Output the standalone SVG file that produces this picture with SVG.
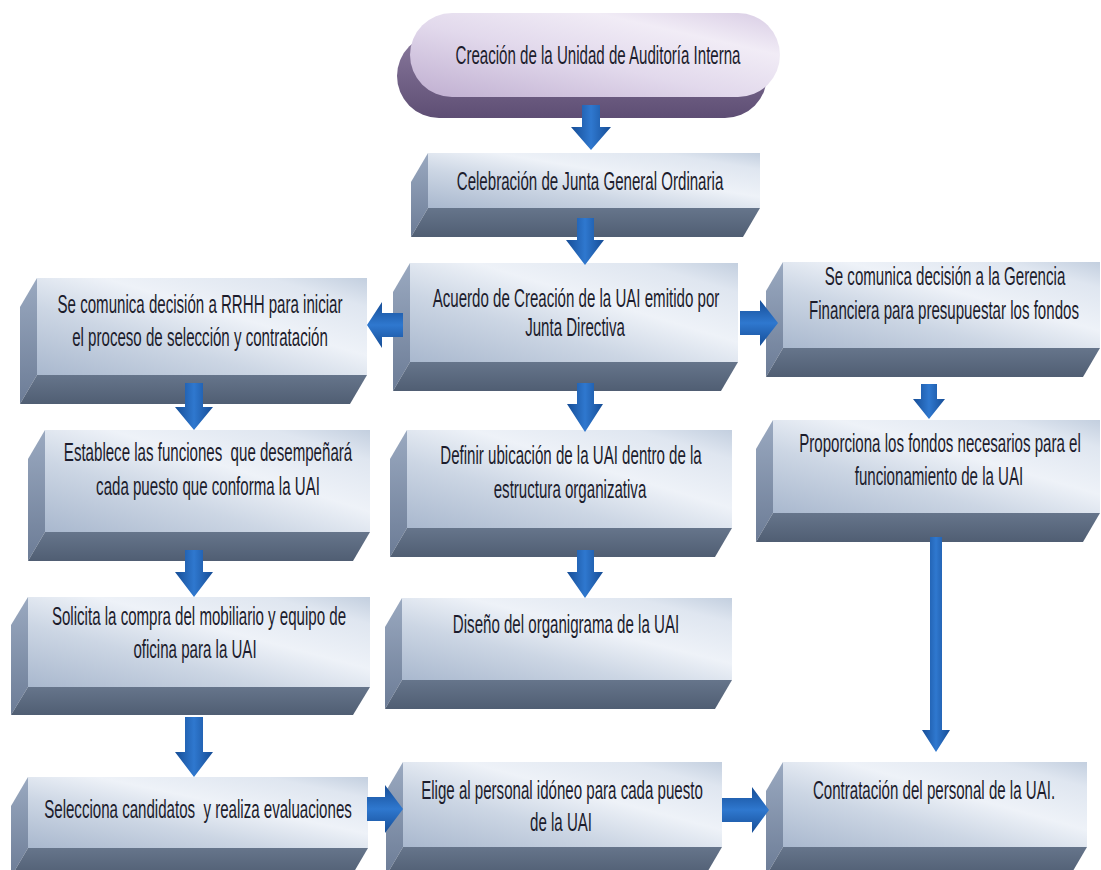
<svg xmlns="http://www.w3.org/2000/svg" width="1101" height="870" viewBox="0 0 1101 870">
<defs>
<linearGradient id="gFront" x1="0" y1="1" x2="1" y2="0">
<stop offset="0" stop-color="#a9b8ce"/>
<stop offset="0.35" stop-color="#ccd6e4"/>
<stop offset="0.6" stop-color="#eef2f8"/>
<stop offset="0.85" stop-color="#dfe6f0"/>
<stop offset="1" stop-color="#c3cfdf"/>
</linearGradient>
<linearGradient id="gLeft" x1="0" y1="0" x2="0" y2="1">
<stop offset="0" stop-color="#9aa9c0"/>
<stop offset="1" stop-color="#6c7c96"/>
</linearGradient>
<linearGradient id="gBottom" x1="0" y1="0" x2="0" y2="1">
<stop offset="0" stop-color="#66758b"/>
<stop offset="1" stop-color="#505e73"/>
</linearGradient>
<linearGradient id="gTermFront" x1="0" y1="1" x2="1" y2="0">
<stop offset="0" stop-color="#bfaed0"/>
<stop offset="0.45" stop-color="#e2d9ec"/>
<stop offset="0.75" stop-color="#f1ecf6"/>
<stop offset="1" stop-color="#d8cce4"/>
</linearGradient>
<linearGradient id="gTermSide" x1="0" y1="0" x2="0" y2="1">
<stop offset="0" stop-color="#8a7a9e"/>
<stop offset="1" stop-color="#5e4e74"/>
</linearGradient>
<linearGradient id="gArrV" x1="0" y1="0" x2="1" y2="0">
<stop offset="0" stop-color="#164d96"/>
<stop offset="0.5" stop-color="#2f78cf"/>
<stop offset="1" stop-color="#164d96"/>
</linearGradient>
<linearGradient id="gArrH" x1="0" y1="0" x2="0" y2="1">
<stop offset="0" stop-color="#164d96"/>
<stop offset="0.5" stop-color="#2f78cf"/>
<stop offset="1" stop-color="#164d96"/>
</linearGradient>
</defs>
<style>
.front{fill:url(#gFront);}
.left{fill:url(#gLeft);}
.bottom{fill:url(#gBottom);}
.av{fill:url(#gArrV);}
.ah{fill:url(#gArrH);}
text{font-family:"Liberation Sans",Arial,sans-serif;font-size:26px;fill:#1c1c2c;text-anchor:middle;}
</style>
<rect width="1101" height="870" fill="#ffffff"/>

<g id="n0">
<rect x="397" y="34" width="370" height="84" rx="42" ry="42" fill="url(#gTermSide)"/>
<rect x="410" y="13" width="370" height="84" rx="42" ry="42" fill="url(#gTermFront)"/>
<text transform="translate(598,64) scale(0.58,1)">Creación de la Unidad de Auditoría Interna</text>
</g>

<g id="n1">
<path class="left" d="M428,153 L428,208 L411,237 L411,182 Z"/>
<path class="bottom" d="M428,208 L760,208 L743,237 L411,237 Z"/>
<rect class="front" x="428" y="153" width="332" height="55"/>
<text transform="translate(590,190) scale(0.58,1)">Celebración de Junta General Ordinaria</text>
</g>

<g id="n2">
<path class="left" d="M410,263 L410,362 L393,391 L393,292 Z"/>
<path class="bottom" d="M410,362 L738,362 L721,391 L393,391 Z"/>
<rect class="front" x="410" y="263" width="328" height="99"/>
<text transform="translate(576,307) scale(0.58,1)">Acuerdo de Creación de la UAI emitido por</text>
<text transform="translate(575,336) scale(0.58,1)">Junta Directiva</text>
</g>

<g id="n3">
<path class="left" d="M37,278 L37,375 L20,404 L20,307 Z"/>
<path class="bottom" d="M37,375 L367,375 L350,404 L20,404 Z"/>
<rect class="front" x="37" y="278" width="330" height="97"/>
<text transform="translate(200,313) scale(0.58,1)">Se comunica decisión a RRHH para iniciar</text>
<text transform="translate(200,346) scale(0.58,1)">el proceso de selección y contratación</text>
</g>

<g id="n4">
<path class="left" d="M783,262 L783,348 L766,377 L766,291 Z"/>
<path class="bottom" d="M783,348 L1100,348 L1083,377 L766,377 Z"/>
<rect class="front" x="783" y="262" width="317" height="86"/>
<text transform="translate(945,285) scale(0.58,1)">Se comunica decisión a la Gerencia</text>
<text transform="translate(944,319) scale(0.58,1)">Financiera para presupuestar los fondos</text>
</g>

<g id="n5">
<path class="left" d="M45,430 L45,532 L28,561 L28,459 Z"/>
<path class="bottom" d="M45,532 L370,532 L353,561 L28,561 Z"/>
<rect class="front" x="45" y="430" width="325" height="102"/>
<text transform="translate(208,461) scale(0.58,1)">Establece las funciones &#160;que desempeñará</text>
<text transform="translate(208,495) scale(0.58,1)">cada puesto que conforma la UAI</text>
</g>

<g id="n6">
<path class="left" d="M407,430 L407,528 L390,557 L390,459 Z"/>
<path class="bottom" d="M407,528 L732,528 L715,557 L390,557 Z"/>
<rect class="front" x="407" y="430" width="325" height="98"/>
<text transform="translate(571,464) scale(0.58,1)">Definir ubicación de la UAI dentro de la</text>
<text transform="translate(570,498) scale(0.58,1)">estructura organizativa</text>
</g>

<g id="n7">
<path class="left" d="M773,420 L773,513 L756,542 L756,449 Z"/>
<path class="bottom" d="M773,513 L1100,513 L1083,542 L756,542 Z"/>
<rect class="front" x="773" y="420" width="327" height="93"/>
<text transform="translate(940,452) scale(0.58,1)">Proporciona los fondos necesarios para el</text>
<text transform="translate(939,485) scale(0.58,1)">funcionamiento de la UAI</text>
</g>

<g id="n8">
<path class="left" d="M28,597 L28,687 L11,715 L11,625 Z"/>
<path class="bottom" d="M28,687 L370,687 L353,715 L11,715 Z"/>
<rect class="front" x="28" y="597" width="342" height="90"/>
<text transform="translate(199,625) scale(0.58,1)">Solicita la compra del mobiliario y equipo de</text>
<text transform="translate(195,658) scale(0.58,1)">oficina para la UAI</text>
</g>

<g id="n9">
<path class="left" d="M402,598 L402,680 L385,709 L385,627 Z"/>
<path class="bottom" d="M402,680 L732,680 L715,709 L385,709 Z"/>
<rect class="front" x="402" y="598" width="330" height="82"/>
<text transform="translate(566,633) scale(0.58,1)">Diseño del organigrama de la UAI</text>
</g>

<g id="n10">
<path class="left" d="M28,777 L28,848 L11,877 L11,806 Z"/>
<path class="bottom" d="M28,848 L368,848 L351,877 L11,877 Z"/>
<rect class="front" x="28" y="777" width="340" height="71"/>
<text transform="translate(198,818) scale(0.58,1)">Selecciona candidatos &#160;y realiza evaluaciones</text>
</g>

<g id="n11">
<path class="left" d="M403,762 L403,847 L386,876 L386,791 Z"/>
<path class="bottom" d="M403,847 L722,847 L705,876 L386,876 Z"/>
<rect class="front" x="403" y="762" width="319" height="85"/>
<text transform="translate(562,799) scale(0.58,1)">Elige al personal idóneo para cada puesto</text>
<text transform="translate(561,831) scale(0.58,1)">de la UAI</text>
</g>

<g id="n12">
<path class="left" d="M783,762 L783,847 L766,876 L766,791 Z"/>
<path class="bottom" d="M783,847 L1087,847 L1070,876 L766,876 Z"/>
<rect class="front" x="783" y="762" width="304" height="85"/>
<text transform="translate(934,799) scale(0.58,1)">Contratación del personal de la UAI.</text>
</g>

<g id="connectors">
<path class="av" d="M582,105 L600,105 L600,127 L611,127 L591,150 L571,127 L582,127 Z"/>
<path class="av" d="M577,218 L594,218 L594,240 L604,240 L585,265 L566,240 L577,240 Z"/>
<path class="ah" d="M403,313 L382,313 L382,302 L367,325 L382,348 L382,337 L403,337 Z"/>
<path class="ah" d="M740,311 L760,311 L760,300 L778,323 L760,346 L760,335 L740,335 Z"/>
<path class="av" d="M185,383 L203,383 L203,407 L213,407 L194,430 L175,407 L185,407 Z"/>
<path class="av" d="M577,383 L594,383 L594,404 L603,404 L585,432 L567,404 L577,404 Z"/>
<path class="av" d="M921,384 L937,384 L937,399 L945,399 L929,419 L913,399 L921,399 Z"/>
<path class="av" d="M185,550 L203,550 L203,572 L213,572 L194,597 L175,572 L185,572 Z"/>
<path class="av" d="M577,550 L594,550 L594,572 L603,572 L585,598 L567,572 L577,572 Z"/>
<path class="av" d="M930,537 L942,537 L942,730 L950,730 L936,752 L922,730 L930,730 Z"/>
<path class="av" d="M185,717 L203,717 L203,752 L213,752 L194,777 L175,752 L185,752 Z"/>
<path class="ah" d="M367,797 L385,797 L385,785 L403,809 L385,833 L385,821 L367,821 Z"/>
<path class="ah" d="M722,798 L752,798 L752,787 L769,810 L752,833 L752,822 L722,822 Z"/>
</g>
</svg>
